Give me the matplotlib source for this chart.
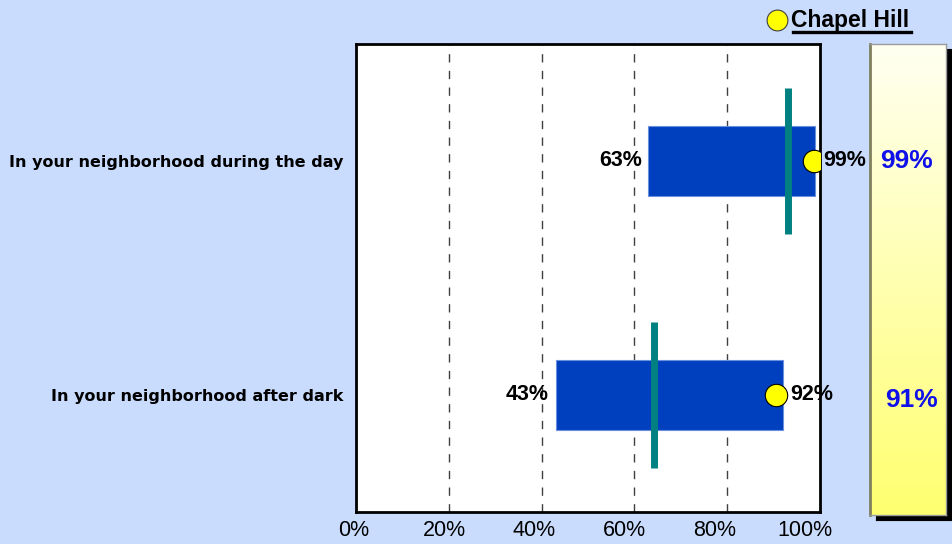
import matplotlib.pyplot as plt
import numpy as np
from matplotlib.lines import Line2D
from matplotlib.colors import LinearSegmentedColormap
from matplotlib.transforms import blended_transform_factory

plt.rcParams['font.family'] = ['Liberation Sans', 'DejaVu Sans']

# data
categories = ["In your neighborhood during the day", "In your neighborhood after dark"]
range_low = [63, 43]
range_high = [99, 92]
benchmark = [93, 64.2]
chapel_hill = [98.6, 90.6]
panel_values = [99, 91]
ticks = [0, 20, 40, 60, 80, 100]
tick_labels = ["0%", "20%", "40%", "60%", "80%", "100%"]

bg = '#C9DCFD'
W, H = 953, 544
fig = plt.figure(figsize=(W / 100, H / 100), dpi=100, facecolor=bg)

def fbox(x0, y0, x1, y1):
    # pixel box (top-left origin) -> figure fraction
    return [x0 / W, 1 - y1 / H, (x1 - x0) / W, (y1 - y0) / H]

ax = fig.add_axes(fbox(356, 44, 820, 512))
ax.set_facecolor('white')
ypos = np.arange(len(categories))

ax.barh(ypos, [h - l for l, h in zip(range_low, range_high)], left=range_low,
        height=0.30, color='#0040BF', edgecolor='#6A8FE0', linewidth=0.8, zorder=2)
for y, b in zip(ypos, benchmark):
    ax.plot([b, b], [y - 0.31, y + 0.31], color='#008080', lw=5,
            solid_capstyle='butt', zorder=3)
ax.scatter(chapel_hill, ypos, s=260, color='#FFFF00', edgecolor='black',
           linewidth=0.8, zorder=4)

for y, l, h in zip(ypos, range_low, range_high):
    ax.text(l - 1.4, y, f"{l}%", ha='right', va='center', fontsize=15.5,
            fontweight='bold', zorder=5)
    ax.text(h + 1.6, y, f"{h}%", ha='left', va='center', fontsize=15.5,
            fontweight='bold', zorder=5, clip_on=False)

ax.set_xlim(0, 100)
ax.set_ylim(1.5, -0.5)
ax.set_xticks(ticks)
ax.set_xticklabels([])
ax.set_yticks(ypos)
ax.set_yticklabels(categories, fontsize=11.5, fontweight='bold',
                   family=['DejaVu Sans'])
ax.tick_params(axis='both', length=0)
ax.tick_params(axis='y', pad=9)
for x in ticks[1:-1]:
    ax.axvline(x, color='#404040', lw=1, ls=(0, (6, 6)), zorder=1)
for s in ax.spines.values():
    s.set_linewidth(2)
    s.set_color('black')

# tick labels sit on a slightly narrower scale than the plot area
lax = fig.add_axes(fbox(354, 512, 804.5, 513))
lax.set_xlim(0, 100)
lax.set_xticks(ticks)
lax.set_xticklabels(tick_labels, fontsize=15.5)
lax.set_yticks([])
lax.tick_params(axis='x', length=0, pad=5)
lax.patch.set_alpha(0)
for s in lax.spines.values():
    s.set_visible(False)

# side panel with shadow
px0, py0, px1, py1 = 870, 44, 946, 515
shadow = fig.add_axes(fbox(px0 + 6, py0 + 5, px1 + 6, py1 + 5))
shadow.set_facecolor('black')
shadow.set_xticks([])
shadow.set_yticks([])
shadow.set_zorder(-1)

pax = fig.add_axes(fbox(px0, py0, px1, py1))
pax.set_zorder(1)
grad = np.linspace(0, 1, 256).reshape(-1, 1)
cmap = LinearSegmentedColormap.from_list('py', ['#FFFFF2', '#FFFF70'])
pax.imshow(grad, aspect='auto', cmap=cmap, extent=[0, 1, 1, 0])
pax.set_xticks([])
pax.set_yticks([])
for s in pax.spines.values():
    s.set_color('#9A9A9A')
    s.set_linewidth(1)
pax.spines['left'].set_color('#808060')
pax.spines['left'].set_linewidth(2)

tr = blended_transform_factory(fig.transFigure, ax.transData)
for y, v, xc, dy in zip(ypos, panel_values, [907, 912], [0.0, 0.02]):
    t = fig.text(0, 0, f"{v}%", transform=tr, ha='center', va='center',
                 fontsize=19, fontweight='bold', color='#1010E8', zorder=5)
    t.set_position((xc / W, y + dy))

# legend
fig.add_artist(Line2D([777 / W], [1 - 20 / H], marker='o', markersize=15,
                      markerfacecolor='#FFFF00', markeredgecolor='#404040',
                      markeredgewidth=0.8, transform=fig.transFigure))
lt = fig.text(791 / W, 1 - 20 / H, "Chapel Hill", ha='left', va='center',
              fontsize=16.5, fontweight='bold')
fig.canvas.draw()
bb = lt.get_window_extent()
fig.add_artist(Line2D([bb.x0 / W + 0.002, bb.x1 / W + 0.002], [1 - 31.5 / H] * 2,
                      color='black', lw=2.4, transform=fig.transFigure))

fig.savefig("out.png", dpi=100, facecolor=bg)
